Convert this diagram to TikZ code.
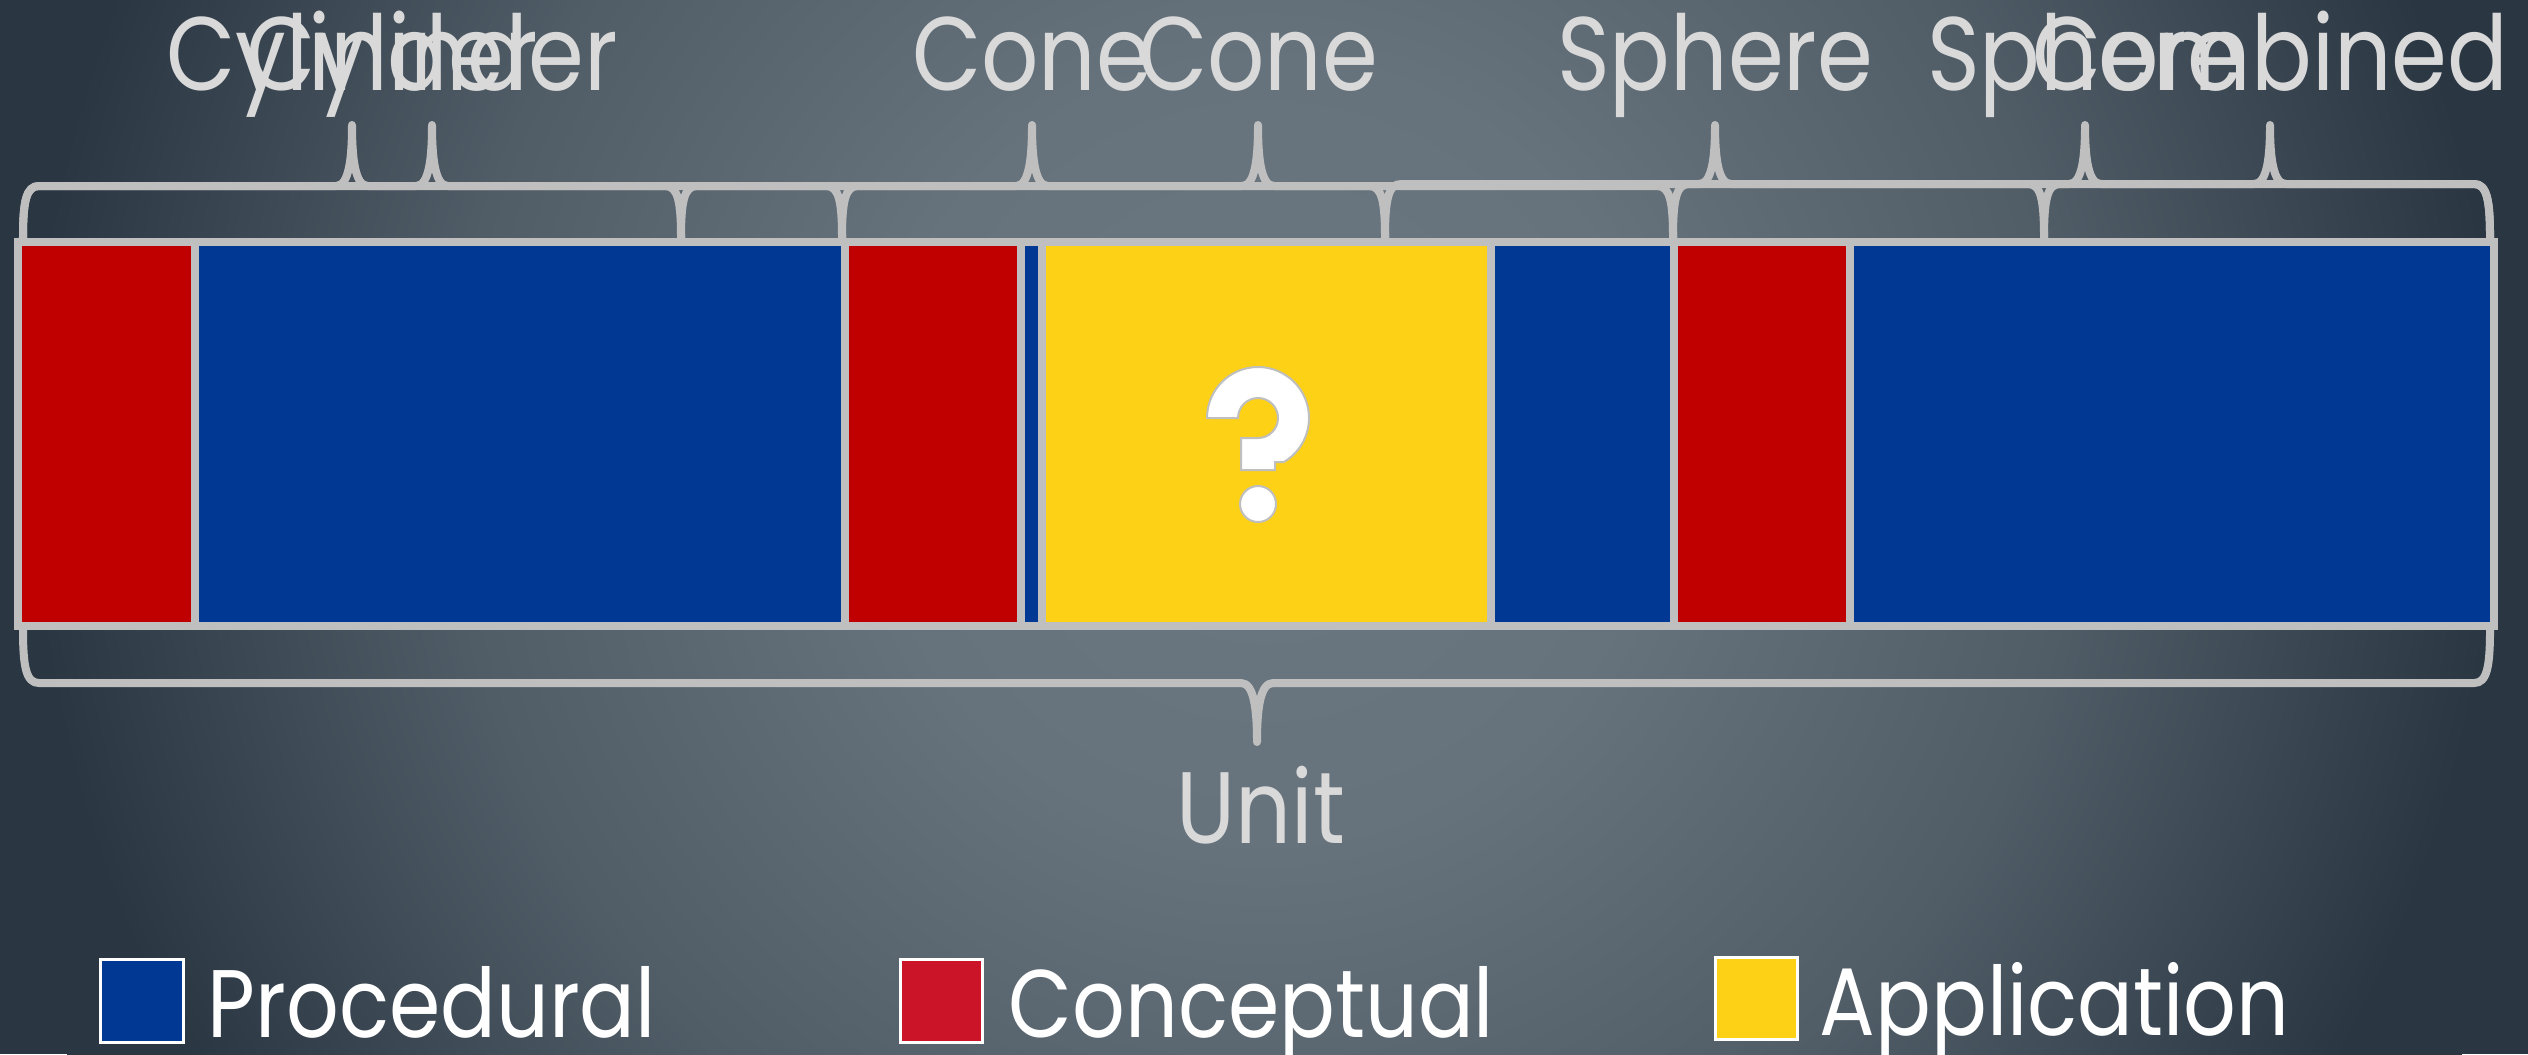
\documentclass[tikz,border=0pt]{standalone}
\usepackage{fontspec}
\setmainfont{Poppins}[FakeStretch=0.86]
\definecolor{segred}{RGB}{192,0,0}
\definecolor{segblue}{RGB}{0,56,147}
\definecolor{segyellow}{RGB}{253,209,22}
\definecolor{legred}{RGB}{204,20,40}
\definecolor{edgegray}{RGB}{191,191,191}
\definecolor{labgray}{RGB}{217,217,217}
\definecolor{bgin}{RGB}{108,120,129}
\definecolor{bgmid}{RGB}{103,115,124}
\definecolor{bgq}{RGB}{80,92,102}
\definecolor{bgout}{RGB}{42,54,66}
\pgfdeclareradialshading{bgshade}{\pgfpoint{0bp}{0bp}}{color(0bp)=(bgin); color(110bp)=(bgmid); color(230bp)=(bgq); color(350bp)=(bgout); color(380bp)=(bgout)}
% horizontal curly brace: xa, xm (tip), xb, y of ends, y of line, y of tip
\newcommand\hbrc[6]{%
  \draw[brc] (#1,#4) .. controls (#1,{#5+(#4-#5)*0.3}) and ({#1+3},#5) .. ({#1+16},#5)
    -- ({#2-16},#5) .. controls ({#2-3},#5) and (#2,{#5+(#6-#5)*0.45}) .. (#2,#6)
    .. controls (#2,{#5+(#6-#5)*0.45}) and ({#2+3},#5) .. ({#2+16},#5)
    -- ({#3-16},#5) .. controls ({#3-3},#5) and (#3,{#5+(#4-#5)*0.3}) .. (#3,#4);}
\begin{document}
\begin{tikzpicture}[x=0.01cm,y=0.01cm,
  seg/.style={draw=edgegray,line width=0.08cm},
  brc/.style={draw=edgegray,line width=0.08cm,line join=round,line cap=round},
  toplab/.style={text=labgray,anchor=base,inner sep=0pt,font=\fontsize{29.7pt}{32pt}\selectfont},
  unitlab/.style={text=labgray,anchor=base,inner sep=0pt,font=\fontsize{28.9pt}{32pt}\selectfont},
  legbox/.style={draw=white,line width=0.03cm},
  legtext/.style={text=white,anchor=base west,inner sep=0pt,font=\fontsize{27.3pt}{30pt}\selectfont}]
\useasboundingbox (0,0) rectangle (2528,-1054);
\begin{scope}
\clip (0,0) rectangle (2528,-1054);
\fill[bgout] (0,0) rectangle (2528,-1054);
\node[inner sep=0pt,outer sep=0pt] (bg) at (1264,-450) {\pgfuseshading{bgshade}};
\end{scope}
% bar segments
\draw[seg,fill=segred]    (18,-241.5) rectangle (195,-625.5);
\draw[seg,fill=segblue]   (195,-241.5) rectangle (845,-625.5);
\draw[seg,fill=segred]    (845,-241.5) rectangle (1021,-625.5);
\draw[seg,fill=segblue]   (1021,-241.5) rectangle (1042,-625.5);
\draw[seg,fill=segyellow] (1042,-241.5) rectangle (1491,-625.5);
\draw[seg,fill=segblue]   (1491,-241.5) rectangle (1674,-625.5);
\draw[seg,fill=segred]    (1674,-241.5) rectangle (1850,-625.5);
\draw[seg,fill=segblue]   (1850,-241.5) rectangle (2494,-625.5);
% question mark
\draw[draw=edgegray,fill=white,line width=0.02cm]
  (1207,-418) arc[start angle=180,end angle=-60,radius=51] -- (1275,-462) -- (1275,-470)
  -- (1241,-470) -- (1241,-438) -- (1258,-438) arc[start angle=-90,end angle=180,radius=20] -- cycle;
\draw[draw=edgegray,fill=white,line width=0.02cm] (1258,-504) circle[radius=18];
% top braces
\hbrc{23}{352}{681}{-238}{-186}{-125}
\hbrc{23}{432}{842}{-238}{-186}{-125}
\hbrc{681}{1032}{1385}{-238}{-186}{-125}
\hbrc{842}{1258}{1673}{-238}{-186}{-125}
\hbrc{1385}{1715}{2044}{-238}{-184}{-125}
\hbrc{1673}{2085}{2490}{-238}{-184}{-125}
\hbrc{2044}{2270}{2490}{-238}{-184}{-125}
% bottom brace
\hbrc{23}{1257}{2490}{-629}{-683}{-742}
% labels
\node[toplab] (cyl1) at (352,-90) {Cylinder};
\node[toplab] (cyl2) at (432,-90) {Cylinder};
\node[toplab] (cone1) at (1032,-90) {Cone};
\node[toplab] (cone2) at (1258,-90) {Cone};
\node[toplab] (sph1) at (1715,-90) {Sphere};
\node[toplab] (sph2) at (2085,-90) {Sphere};
\node[toplab] (comb) at (2270,-90) {Combined};
\node[unitlab] (unit) at (1261,-843) {Unit};
% legend
\draw[legbox,fill=segblue] (100,-959) rectangle (183,-1042);
\node[legtext] (proc) at (207,-1037) {Procedural};
\draw[legbox,fill=legred] (900,-959) rectangle (982,-1042);
\node[legtext] (conc) at (1008,-1037) {Conceptual};
\draw[legbox,fill=segyellow] (1715,-957) rectangle (1797,-1039);
\node[legtext] (appl) at (1819,-1035) {Application};
\end{tikzpicture}
\end{document}
